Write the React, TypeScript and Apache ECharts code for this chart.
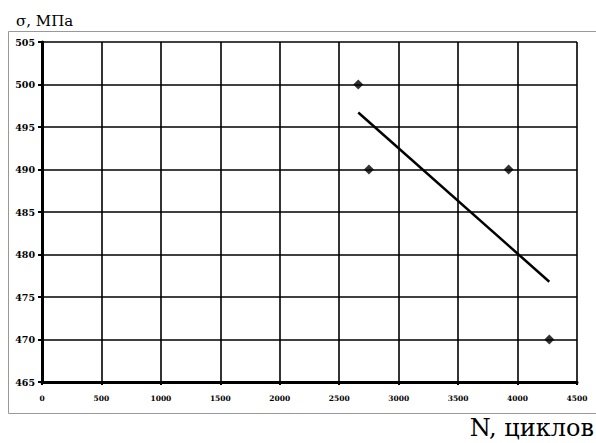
import React, { useEffect, useRef } from "react";
import * as echarts from "echarts";

const cyclesN: number[] = [2660, 2750, 3925, 4267];
const stressMPa: number[] = [500, 490, 490, 470];
const trendN: number[] = [2660, 4267];
const trendStress: number[] = [496.7, 476.8];
const yTitle = "σ, МПа";
const xTitle = "N, циклов";

export default function App() {
  const ref = useRef<HTMLDivElement>(null);
  useEffect(() => {
    if (!ref.current) return;
    const chart = echarts.init(ref.current, null, { renderer: "svg" });
    const font = "DejaVu Serif";
    chart.setOption({
      animation: false,
      backgroundColor: "#fff",
      grid: { left: 42, top: 42, right: 19, bottom: 61, containLabel: false },
      xAxis: {
        type: "value",
        min: 0,
        max: 4500,
        interval: 500,
        axisLine: { show: true, onZero: false, lineStyle: { color: "#000", width: 3 } },
        axisTick: { show: true, length: 3, lineStyle: { color: "#000", width: 2 } },
        splitLine: { show: true, lineStyle: { color: "#000", width: 1.6 } },
        axisLabel: {
          color: "#000",
          fontFamily: font,
          fontWeight: "bold",
          fontSize: 7.5,
          margin: 12,
          formatter: (v: number) => String(v),
        },
      },
      yAxis: {
        type: "value",
        min: 465,
        max: 505,
        interval: 5,
        axisLine: { show: true, onZero: false, lineStyle: { color: "#000", width: 3 } },
        axisTick: { show: true, length: 4, lineStyle: { color: "#000", width: 2 } },
        splitLine: { show: true, lineStyle: { color: "#000", width: 1.6 } },
        axisLabel: {
          color: "#000",
          fontFamily: font,
          fontWeight: "bold",
          fontSize: 9.5,
          margin: 7,
          formatter: (v: number) => String(v),
        },
      },
      graphic: [
        {
          type: "rect",
          shape: { x: 8.5, y: 31.5, width: 600, height: 382 },
          style: { fill: "none", stroke: "#999", lineWidth: 1 },
          silent: true,
          z: -1,
        },
        {
          type: "text",
          x: 16,
          y: 28,
          style: { text: yTitle, fontFamily: font, fontSize: 15, fill: "#000", textVerticalAlign: "bottom" },
        },
        {
          type: "text",
          x: 594,
          y: 440,
          style: { text: xTitle, fontFamily: font, fontSize: 24, fill: "#000", textAlign: "right", textVerticalAlign: "bottom" },
        },
      ],
      series: [
        {
          type: "line",
          data: trendN.map((n, i) => [n, trendStress[i]]),
          showSymbol: false,
          symbol: "none",
          lineStyle: { color: "#000", width: 2.5 },
          z: 3,
        },
        {
          type: "scatter",
          data: cyclesN.map((n, i) => [n, stressMPa[i]]),
          symbol: "diamond",
          symbolSize: 10,
          itemStyle: { color: "#000" },
          z: 4,
        },
      ],
    });
    return () => chart.dispose();
  }, []);
  return <div ref={ref} style={{ position: "fixed", left: 0, top: 0, width: 596, height: 443 }} />;
}
